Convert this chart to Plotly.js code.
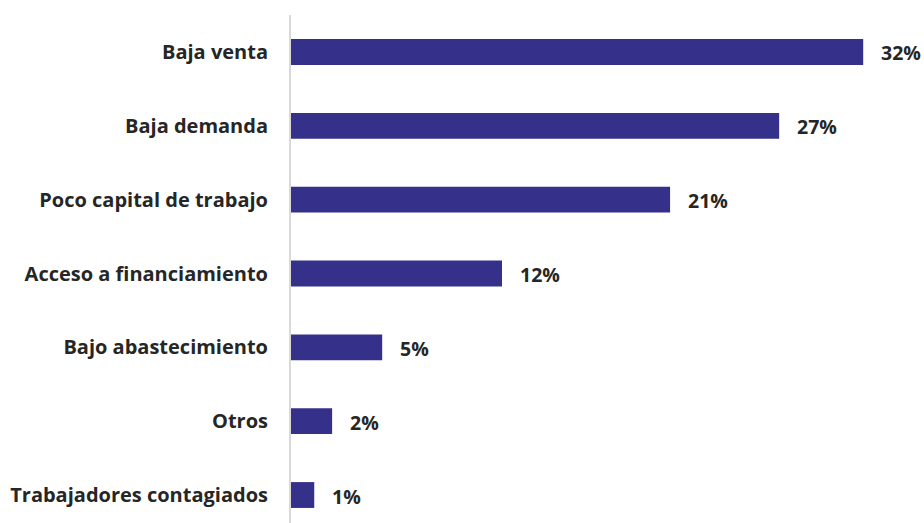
<!DOCTYPE html>
<html><head><meta charset="utf-8">
<script src="https://cdn.plot.ly/plotly-3.0.1.min.js"></script>
<style>html,body{margin:0;padding:0;background:#fff}#chart{width:924px;height:523px}</style>
</head><body><div id="chart"></div>
<script>
var categories = ["Baja venta","Baja demanda","Poco capital de trabajo","Acceso a financiamiento","Bajo abastecimiento","Otros","Trabajadores contagiados"];
var values = [32, 27.3, 21.2, 11.8, 5.1, 2.3, 1.3];
var labels = ["32%","27%","21%","12%","5%","2%","1%"];

var cats = categories.slice().reverse();
var vals = values.slice().reverse();
var labs = labels.slice().reverse();
var font = "'Open Sans', Lato, sans-serif";

var trace = {
  type: "bar", orientation: "h", x: vals, y: cats,
  marker: {color: "#35308A"}, width: 0.35, hoverinfo: "none"
};
var annotations = cats.map(function(c, i){
  return {x: vals[i], y: c, xref: "x", yref: "y", text: "<b>" + labs[i] + "</b>",
    showarrow: false, xanchor: "left", xshift: 16, yshift: -1,
    font: {family: font, size: 19.5, color: "#262626"}};
});
var layout = {
  width: 924, height: 523,
  margin: {l: 291, r: 0, t: 15, b: 0},
  paper_bgcolor: "#fff", plot_bgcolor: "#fff",
  showlegend: false,
  xaxis: {range: [0, 35.4], showgrid: false, zeroline: false, showticklabels: false, showline: false, fixedrange: true},
  yaxis: {type: "category", range: [-0.379, 6.501], showgrid: false, zeroline: false,
    showline: true, linecolor: "#d9d9d9", linewidth: 2,
    ticks: "outside", ticklen: 17, tickcolor: "rgba(0,0,0,0)",
    tickfont: {family: font, size: 20, color: "#262626", weight: "bold"}},
  annotations: annotations,
  font: {family: font}
};
Plotly.newPlot("chart", [trace], layout, {displayModeBar: false, staticPlot: true});
</script></body></html>
